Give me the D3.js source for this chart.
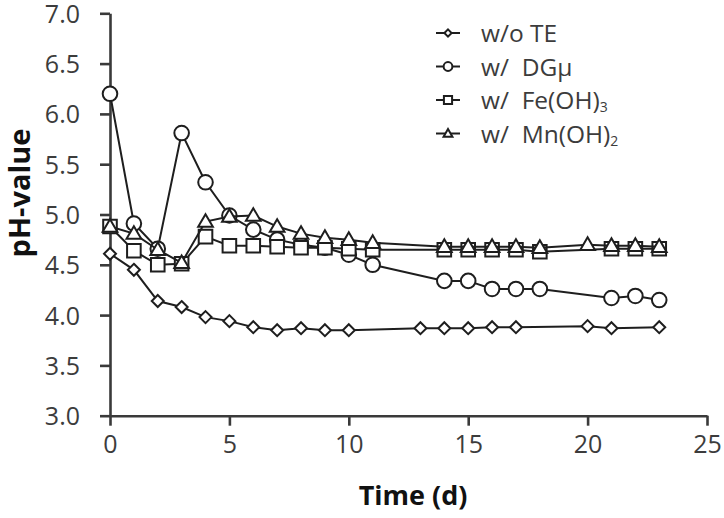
<!DOCTYPE html>
<html><head><meta charset="utf-8">
<script src="https://cdn.jsdelivr.net/npm/d3@7"></script>
<style>
body{margin:0;background:#fff;}
svg text{font-family:"Open Sans",sans-serif;}
</style></head>
<body>
<svg id="chart" width="724" height="518"></svg>
<script>
// ---- data ----
const xTicks = [0,5,10,15,20,25];
const yTicks = [3.0,3.5,4.0,4.5,5.0,5.5,6.0,6.5,7.0];

const tWoTE = [0,1,2,3,4,5,6,7,8,9,10,13,14,15,16,17,20,21,23];
const phWoTE = [4.61,4.45,4.14,4.08,3.98,3.94,3.88,3.85,3.87,3.85,3.85,3.87,3.87,3.87,3.88,3.88,3.89,3.87,3.88];

const tDG = [0,1,2,3,4,5,6,7,8,9,10,11,14,15,16,17,18,21,22,23];
const phDG = [6.2,4.91,4.66,5.81,5.32,4.99,4.85,4.75,4.70,4.67,4.60,4.50,4.34,4.34,4.26,4.26,4.26,4.17,4.19,4.15];

const tFe = [0,1,2,3,4,5,6,7,8,9,10,11,14,15,16,17,18,21,22,23];
const phFe = [4.88,4.64,4.50,4.51,4.78,4.69,4.69,4.68,4.67,4.67,4.66,4.65,4.65,4.65,4.65,4.65,4.63,4.66,4.66,4.66];

const tMn = [0,1,2,3,4,5,6,7,8,9,10,11,14,15,16,17,18,20,21,22,23];
const phMn = [4.88,4.81,4.65,4.52,4.93,4.98,4.99,4.88,4.81,4.77,4.75,4.72,4.68,4.68,4.68,4.68,4.67,4.70,4.69,4.69,4.68];

const seriesNames = ["w/o TE","w/  DGμ","w/  Fe(OH)3","w/  Mn(OH)2"];

// ---- layout ----
const svg = d3.select("#chart");
const L = 110, R = 707, T = 13.3, B = 415.7;
const x = d3.scaleLinear().domain([0,25]).range([L,R]);
const y = d3.scaleLinear().domain([3,7]).range([B,T]);
const ink = "#1e1e1e", axisCol = "#3a3a3a", textCol = "#3c3c3c";

// axes
const yAxis = svg.append("g").attr("transform",`translate(${L},0)`)
  .call(d3.axisLeft(y).tickValues(yTicks).tickFormat(d3.format(".1f")).tickSizeOuter(0).tickSizeInner(10).tickPadding(20));
const xAxis = svg.append("g").attr("transform",`translate(0,${B})`)
  .call(d3.axisBottom(x).tickValues(xTicks).tickFormat(d3.format("d")).tickSizeOuter(0).tickSizeInner(10).tickPadding(10));
[yAxis,xAxis].forEach(g=>{
  g.select(".domain").attr("stroke",axisCol).attr("stroke-width",2.6);
  g.selectAll(".tick line").attr("stroke",axisCol).attr("stroke-width",2.6);
  g.selectAll(".tick text").attr("fill",textCol).style("font-size","25px").style("font-family","'Open Sans',sans-serif");
});
yAxis.selectAll(".tick text").attr("dy","0.36em");

svg.append("text").attr("x",413).attr("y",505).attr("text-anchor","middle")
  .style("font-size","27px").style("font-weight","bold").attr("fill","#111").text("Time (d)");
svg.append("text").attr("transform",`translate(30,193) rotate(-90)`).attr("text-anchor","middle")
  .style("font-size","29px").style("font-weight","bold").attr("fill","#111").text("pH-value");

// markers
const sym = {
  diamond: s=>`M0,${-s}L${s},0L0,${s}L${-s},0Z`,
  circle: s=>d3.symbol(d3.symbolCircle, Math.PI*s*s)(),
  square: s=>`M${-s},${-s}H${s}V${s}H${-s}Z`,
  triangle: s=>`M0,${-s*1.05}L${s*1.05},${s*0.75}L${-s*1.05},${s*0.75}Z`
};
const series = [
  {t:tWoTE, v:phWoTE, shape:"diamond", size:6},
  {t:tDG, v:phDG, shape:"circle", size:7.3},
  {t:tFe, v:phFe, shape:"square", size:6.8},
  {t:tMn, v:phMn, shape:"triangle", size:7}
];
const line = d3.line().x(d=>x(d[0])).y(d=>y(d[1]));
series.forEach(s=>{
  const pts = s.t.map((t,i)=>[t,s.v[i]]);
  const g = svg.append("g");
  g.append("path").attr("d",line(pts)).attr("fill","none").attr("stroke",ink).attr("stroke-width",2);
  g.selectAll("path.m").data(pts).enter().append("path").attr("class","m")
    .attr("transform",d=>`translate(${x(d[0])},${y(d[1])})`)
    .attr("d",sym[s.shape](s.size)).attr("fill","#fff").attr("stroke",ink).attr("stroke-width",2);
});

// legend
const lg = svg.append("g");
const rowY = [33,66.5,100,133.5];
series.forEach((s,i)=>{
  const r = lg.append("g").attr("transform",`translate(448,${rowY[i]})`);
  r.append("line").attr("x1",-12).attr("x2",12).attr("stroke",ink).attr("stroke-width",2);
  r.append("path").attr("d",sym[s.shape](s.size*0.6)).attr("fill","#fff").attr("stroke",ink).attr("stroke-width",2);
  const tx = r.append("text").attr("x",33).attr("y",9).attr("fill",textCol)
    .style("font-size","24.5px").style("white-space","pre");
  const name = seriesNames[i];
  const m = name.match(/^(.*\))(\d)$/);
  if(m){
    tx.append("tspan").text(m[1]);
    tx.append("tspan").attr("dy",3).style("font-size","14px").text(m[2]);
  } else tx.text(name);
});
</script>
</body></html>
